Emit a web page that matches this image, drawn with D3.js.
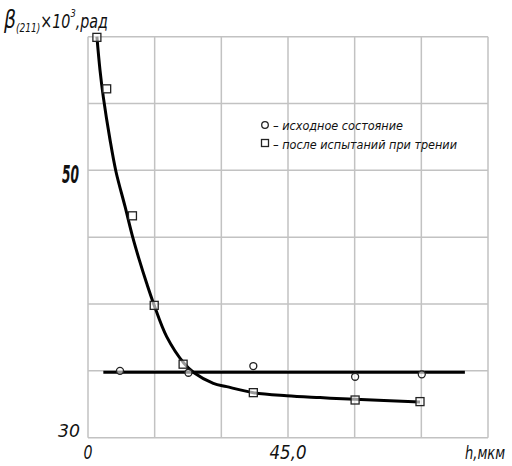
<!DOCTYPE html>
<html><head><meta charset="utf-8">
<script src="https://cdn.jsdelivr.net/npm/d3@7"></script>
<style>
html,body{margin:0;padding:0;background:#fff;}
svg text{font-family:"DejaVu Sans","Noto Sans",sans-serif;font-stretch:condensed;font-style:italic;fill:#111;}
</style></head>
<body><svg id="c" width="512" height="466"></svg>
<script>
// data
const xGridTicks = [0, 15, 30, 45, 60, 75, 90];
const yGridTicks = [30, 35, 40, 45, 50, 55, 60];
const xTickLabels = [[0, "0"], [45, "45,0"]];
const yTickLabels = [[30, "30"], [50, "50"]];

const squaresX = [2.0, 4.2, 10.0, 14.9, 21.4, 37.2, 60.1, 74.7];
const squaresY = [59.95, 56.1, 46.6, 39.9, 35.5, 33.37, 32.82, 32.7];

const circlesX = [7.2, 22.6, 37.2, 60.1, 75.1];
const circlesY = [35.0, 34.86, 35.36, 34.56, 34.74];

const curveX = [2.0, 2.7, 3.44, 4.95, 6.3, 8.33, 10.06, 11.54, 13.2, 14.9, 17.7, 21.6, 23.85, 28.2, 31.2, 37.2, 44.7, 52.2, 60.1, 74.7];
const curveY = [60.0, 57.5, 55.5, 52.3, 49.9, 47.3, 45.0, 43.3, 41.55, 39.9, 37.56, 35.57, 34.86, 34.07, 33.82, 33.37, 33.14, 33.0, 32.87, 32.67];

const lineX = [3.45, 84.8];
const lineY = [34.89, 34.89];

const legendLabels = ["– исходное состояние", "– после испытаний при трении"];

const svg = d3.select("#c");
const x = d3.scaleLinear().domain([0, 90]).range([88, 488]);
const y = d3.scaleLinear().domain([30, 60]).range([437.7, 36.7]);

const grid = svg.append("g").attr("stroke", "#c2c2c2").attr("stroke-width", 1.5);
grid.selectAll("line.v").data(xGridTicks).join("line")
  .attr("x1", d => x(d)).attr("x2", d => x(d)).attr("y1", y(30)).attr("y2", y(60));
grid.selectAll("line.h").data(yGridTicks).join("line")
  .attr("y1", d => y(d)).attr("y2", d => y(d)).attr("x1", x(0)).attr("x2", x(90));

// axis labels
svg.selectAll("text.xl").data(xTickLabels).join("text")
  .attr("x", d => x(d[0]) - (d[0] === 0 ? 4.5 : 18.5)).attr("y", 459)
  .attr("font-size", 19)
  .attr("textLength", d => d[0] === 0 ? 9 : 37).attr("lengthAdjust", "spacingAndGlyphs")
  .text(d => d[1]);
svg.append("text").attr("x", 465).attr("y", 459).attr("font-size", 17)
  .attr("textLength", 40).attr("lengthAdjust", "spacingAndGlyphs").text("h,мкм");
svg.selectAll("text.yl").data(yTickLabels).join("text")
  .attr("x", d => d[0] === 50 ? 62 : 58).attr("y", d => d[0] === 50 ? 183 : 437)
  .attr("font-size", d => d[0] === 50 ? 24 : 18)
  .attr("font-weight", d => d[0] === 50 ? "bold" : "normal")
  .attr("textLength", d => d[0] === 50 ? 17 : 22).attr("lengthAdjust", "spacingAndGlyphs")
  .text(d => d[1]);

// title: one flowing text, squeezed horizontally by a transform
const tg = svg.append("g");
const title = tg.append("text").attr("x", 0).attr("y", 28);
title.append("tspan").attr("font-size", 25).text("β");
title.append("tspan").attr("font-size", 12).attr("dy", 4).text("(211)");
title.append("tspan").attr("font-size", 19).attr("dy", -4).text("×10");
title.append("tspan").attr("font-size", 11).attr("dy", -11).text("3");
title.append("tspan").attr("font-size", 19).attr("dy", 11).text(",рад");
const tw = title.node().getComputedTextLength();
tg.attr("transform", `translate(4,0) scale(${104 / tw},1)`);

// lines
const line = d3.line().x(d => x(d[0])).y(d => y(d[1]));
svg.append("path").datum(lineX.map((v, i) => [v, lineY[i]]))
  .attr("d", line).attr("fill", "none").attr("stroke", "#000").attr("stroke-width", 3);
svg.append("path").datum(curveX.map((v, i) => [v, curveY[i]]))
  .attr("d", line.curve(d3.curveCatmullRom)).attr("fill", "none")
  .attr("stroke", "#000").attr("stroke-width", 3);

// markers
svg.selectAll("rect.sq").data(squaresX.map((v, i) => [v, squaresY[i]])).join("rect")
  .attr("x", d => x(d[0]) - 4).attr("y", d => y(d[1]) - 4)
  .attr("width", 8).attr("height", 8)
  .attr("fill", "#fff").attr("fill-opacity", 0.6).attr("stroke", "#222").attr("stroke-width", 1.3);
svg.selectAll("circle.ci").data(circlesX.map((v, i) => [v, circlesY[i]])).join("circle")
  .attr("cx", d => x(d[0])).attr("cy", d => y(d[1])).attr("r", 3.5)
  .attr("fill", "#fff").attr("fill-opacity", 0.6).attr("stroke", "#222").attr("stroke-width", 1.3);

// legend
svg.append("circle").attr("cx", 265).attr("cy", 125).attr("r", 3.3)
  .attr("fill", "#fff").attr("stroke", "#222").attr("stroke-width", 1.3);
svg.append("rect").attr("x", 261.5).attr("y", 139.5).attr("width", 7).attr("height", 7)
  .attr("fill", "#fff").attr("stroke", "#222").attr("stroke-width", 1.3);
svg.selectAll("text.lg").data(legendLabels).join("text")
  .attr("x", 273).attr("y", (d, i) => 130 + i * 18.5).attr("font-size", 12)
  .attr("textLength", (d, i) => i === 0 ? 130 : 184).attr("lengthAdjust", "spacingAndGlyphs")
  .text(d => d);
</script></body></html>
